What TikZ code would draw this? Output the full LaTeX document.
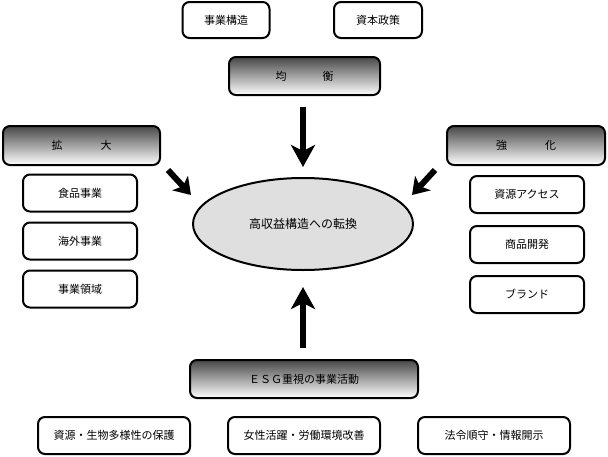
\documentclass[tikz,border=0pt]{standalone}
\usepackage{fontspec}
\newfontfamily\jpfont{Noto Sans CJK JP}
\usetikzlibrary{%
	shapes.geometric,%
	arrows.meta
}
\tikzstyle{item}=[draw, line width=2pt, rounded corners=7pt, fill=white, minimum width=114pt, minimum height=37pt, inner sep=0pt, font=\jpfont\fontsize{11}{12}\selectfont]
\tikzstyle{head}=[item, top color=black!72, bottom color=white, minimum height=38pt]
\tikzstyle{bigarrow}=[line width=6pt, -{Stealth[length=22pt,width=24pt,inset=6pt]}]
\tikzstyle{smallarrow}=[line width=6pt, -{Stealth[length=16pt,width=21pt,inset=4pt]}]

\begin{document}
\begin{tikzpicture}[x=1pt, y=-1pt]
		\useasboundingbox (0,0) rectangle (608,456);
		
		% centre
		\node[ellipse, draw, line width=2pt, fill=gray!25, minimum width=220pt, minimum height=92pt, font=\jpfont\fontsize{12}{13}\selectfont] (goal) at (303,224) {高収益構造への転換};
		
		% top
		\node[item, minimum width=87pt, minimum height=36pt] (kozo) at (226,20) {事業構造};
		\node[item, minimum width=88pt, minimum height=36pt] (seisaku) at (378,20) {資本政策};
		\node[head, minimum width=151pt] (kinko) at (304.5,76) {均\hspace{36pt}衡};
		
		% left
		\node[head, minimum width=157pt, minimum height=39pt] (kakudai) at (81.5,145.5) {拡\hspace{38pt}大};
		\node[item] (shokuhin) at (80,193) {食品事業};
		\node[item] (kaigai) at (80,241) {海外事業};
		\node[item] (ryoiki) at (80,289) {事業領域};
		
		% right
		\node[head, minimum width=158pt, minimum height=39pt] (kyoka) at (526,145.5) {強\hspace{38pt}化};
		\node[item] (shigen) at (527,194.5) {資源アクセス};
		\node[item] (shohin) at (527,244.5) {商品開発};
		\node[item] (brand) at (527,294.5) {ブランド};
		
		% bottom
		\node[head, minimum width=228pt] (esg) at (304,379) {ＥＳＧ重視の事業活動};
		\node[item, minimum width=152pt] (hogo) at (114,435.5) {資源・生物多様性の保護};
		\node[item, minimum width=152pt] (josei) at (304,435.5) {女性活躍・労働環境改善};
		\node[item, minimum width=152pt] (horei) at (494,435.5) {法令順守・情報開示};
		
		% arrows
		\coordinate (a1) at (303,107);
		\coordinate (a2) at (303,167);
		\coordinate (b1) at (303,348);
		\coordinate (b2) at (303,287);
		\coordinate (c1) at (168,170);
		\coordinate (c2) at (191,195);
		\coordinate (d1) at (435,170);
		\coordinate (d2) at (412,195);
		
		\draw[bigarrow] (a1) -- (a2);
		\draw[bigarrow] (b1) -- (b2);
		\draw[smallarrow] (c1) -- (c2);
		\draw[smallarrow] (d1) -- (d2);
\end{tikzpicture}
\end{document}
